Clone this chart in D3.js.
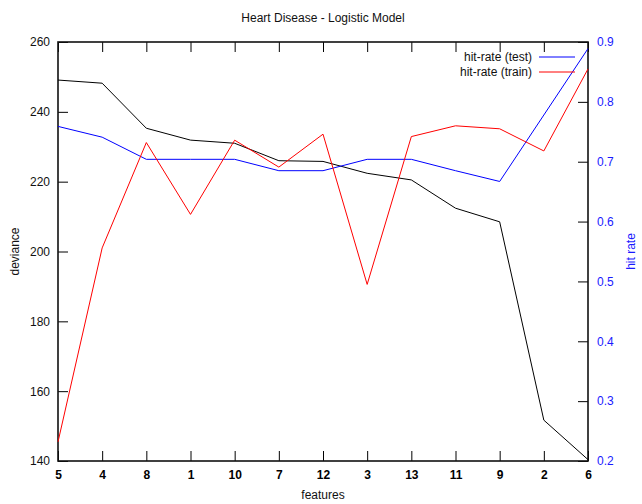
<!DOCTYPE html>
<html>
<head>
<meta charset="utf-8">
<script src="https://cdn.jsdelivr.net/npm/d3@7"></script>
<style>
  html, body { margin: 0; padding: 0; background: #fff; }
  svg { display: block; font-family: "Liberation Sans", Arial, Helvetica, sans-serif; }
</style>
</head>
<body>
<svg id="chart" width="642" height="504"></svg>
<script>
// Features in the order they were added to the model
const features = ["5", "4", "8", "1", "10", "7", "12", "3", "13", "11", "9", "2", "6"];
// Residual deviance (left axis)
const deviance = [249.1, 248.2, 235.3, 231.9, 231.0, 226.0, 225.8, 222.4, 220.5, 212.4, 208.5, 151.7, 140.4];
// Hit rates (right axis)
const hitTest = [0.759, 0.741, 0.704, 0.704, 0.704, 0.685, 0.685, 0.704, 0.704, 0.685, 0.667, 0.778, 0.889];
const hitTrain = [0.232, 0.556, 0.732, 0.612, 0.736, 0.691, 0.746, 0.495, 0.742, 0.760, 0.755, 0.718, 0.855];
// Axis ticks
const devTicks = [140, 160, 180, 200, 220, 240, 260];
const rateTicks = [0.2, 0.3, 0.4, 0.5, 0.6, 0.7, 0.8, 0.9];

const svg = d3.select("#chart");
const m = { left: 58, right: 54, top: 42, bottom: 43 };
const W = 642, H = 504;
const iw = W - m.left - m.right, ih = H - m.top - m.bottom;
const g = svg.append("g").attr("transform", `translate(${m.left},${m.top})`);

const x = d3.scalePoint().domain(features).range([0, iw]);
const yL = d3.scaleLinear().domain([140, 260]).range([ih, 0]);
const yR = d3.scaleLinear().domain([0.2, 0.9]).range([ih, 0]);

const tickLen = 10;
const blue = "#1a1aff";

// Bottom axis with inward ticks
const xAxis = g.append("g").attr("transform", `translate(0,${ih})`)
  .call(d3.axisBottom(x).tickSizeInner(-tickLen).tickSizeOuter(0).tickPadding(9));
xAxis.selectAll("text").attr("font-size", 12).attr("font-weight", "bold").attr("fill", "#000");
// Top mirrored ticks
const xTop = g.append("g")
  .call(d3.axisTop(x).tickSizeInner(-tickLen).tickSizeOuter(0).tickFormat(""));

// Left axis (deviance)
const yAxisL = g.append("g")
  .call(d3.axisLeft(yL).tickValues(devTicks).tickSizeInner(-tickLen).tickSizeOuter(0).tickPadding(8));
yAxisL.selectAll("text").attr("font-size", 12).attr("fill", "#111");

// Right axis (hit rate)
const yAxisR = g.append("g").attr("transform", `translate(${iw},0)`)
  .call(d3.axisRight(yR).tickValues(rateTicks).tickFormat(d3.format(".1f"))
    .tickSizeInner(-tickLen).tickSizeOuter(0).tickPadding(9));
yAxisR.selectAll("text").attr("font-size", 12).attr("fill", blue);

[xAxis, xTop, yAxisL, yAxisR].forEach(a => {
  a.select(".domain").remove();
  a.selectAll(".tick line").attr("stroke", "#000").attr("stroke-width", 1);
});

// Frame
g.append("rect").attr("x", 0).attr("y", 0).attr("width", iw).attr("height", ih)
  .attr("fill", "none").attr("stroke", "#111").attr("stroke-width", 1.6);

// Series
const lineL = d3.line().x((d, i) => x(features[i])).y(d => yL(d));
const lineR = d3.line().x((d, i) => x(features[i])).y(d => yR(d));

g.append("path").datum(deviance).attr("d", lineL)
  .attr("fill", "none").attr("stroke", "#000").attr("stroke-width", 1);
g.append("path").datum(hitTest).attr("d", lineR)
  .attr("fill", "none").attr("stroke", "#0000ff").attr("stroke-width", 1);
g.append("path").datum(hitTrain).attr("d", lineR)
  .attr("fill", "none").attr("stroke", "#ff0000").attr("stroke-width", 1);

// Legend
const legend = [
  { label: "hit-rate (test)", color: "#0000ff" },
  { label: "hit-rate (train)", color: "#ff0000" }
];
const lg = g.append("g");
legend.forEach((d, i) => {
  const yy = 15 + i * 15;
  lg.append("text").attr("x", 474).attr("y", yy).attr("dy", "0.35em")
    .attr("text-anchor", "end").attr("font-size", 12).attr("fill", "#111").text(d.label);
  lg.append("line").attr("x1", 481).attr("x2", 517).attr("y1", yy).attr("y2", yy)
    .attr("stroke", d.color).attr("stroke-width", 1);
});

// Titles and axis labels
svg.append("text").attr("x", m.left + iw / 2).attr("y", 22).attr("text-anchor", "middle")
  .attr("font-size", 12).attr("fill", "#111").text("Heart Disease - Logistic Model");
svg.append("text").attr("x", m.left + iw / 2).attr("y", 499).attr("text-anchor", "middle")
  .attr("font-size", 12).attr("fill", "#111").text("features");
svg.append("text").attr("transform", `translate(19,${m.top + ih / 2}) rotate(-90)`)
  .attr("text-anchor", "middle").attr("font-size", 12).attr("fill", "#111").text("deviance");
svg.append("text").attr("transform", `translate(635,${m.top + ih / 2}) rotate(-90)`)
  .attr("text-anchor", "middle").attr("font-size", 12).attr("fill", blue).text("hit rate");
</script>
</body>
</html>
